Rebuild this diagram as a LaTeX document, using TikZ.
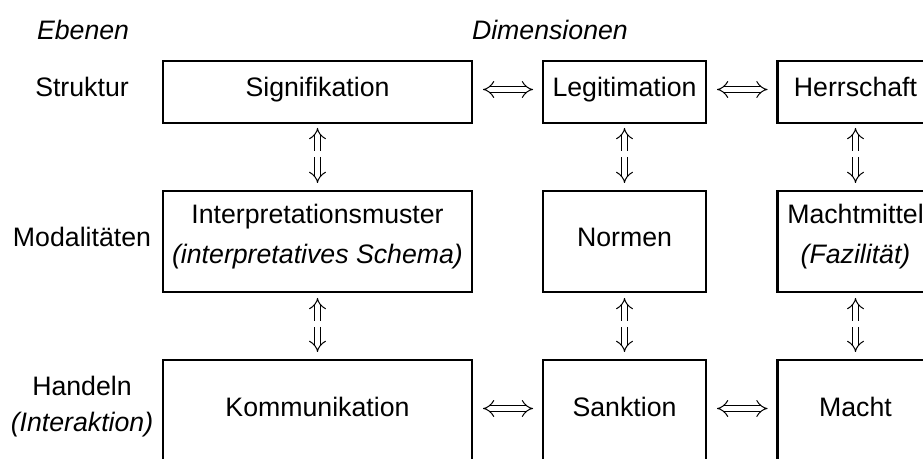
\documentclass[tikz,border=0pt]{standalone}
\usepackage{fontspec}
\setmainfont{Liberation Sans}
\usetikzlibrary{arrows.meta}
\begin{document}
\begin{tikzpicture}[x=1bp,y=-1bp,
  every node/.style={inner sep=0bp, outer sep=0bp},
  txt/.style={font=\fontsize{26.7bp}{39bp}\selectfont, anchor=base},
  box/.style={draw, line width=2.6bp},
  rowS/.style={box, minimum height=62bp},
  rowM/.style={box, minimum height=101bp},
  rowH/.style={box, minimum height=102bp},
  colA/.style={minimum width=309bp},
  colB/.style={minimum width=163bp},
  colC/.style={minimum width=156bp},
  dbl/.style={double, double distance=5bp, line width=1bp},
  harrow/.style={dbl, {Implies[length=7bp, width=16bp]}-{Implies[length=7bp, width=16bp]},
                 shorten <=11bp, shorten >=10bp},
  varrow/.style={dbl, -{Implies[length=6bp, width=13bp]}}]
\useasboundingbox (0,0) rectangle (923,459);
\clip (0,0) rectangle (923,459);

% headings
\node[txt, anchor=base west] (ebenen) at (37,40) {\itshape Ebenen};
\node[txt, anchor=base west] (dimensionen) at (472,40) {\itshape Dimensionen};

% level labels
\node[txt] (struktur) at (82,96.5) {Struktur};
\node[txt] (modal) at (82,246.5) {Modalitäten};
\node[txt] (handeln) at (82,395) {Handeln};
\node[txt] (interaktion) at (82,431) {\itshape (Interaktion)};

% structure row
\node[rowS, colA] (sig) at (317.5,92) {};
\node[rowS, colB] (leg) at (624.5,92) {};
\node[rowS, colC] (her) at (855.5,92) {};
\node[txt] (sigT) at (sig |- 0,96.5) {Signifikation};
\node[txt] (legT) at (leg |- 0,96.5) {Legitimation};
\node[txt] (herT) at (her |- 0,96.5) {Herrschaft};

% modality row
\node[rowM, colA] (int) at (317.5,241.5) {};
\node[rowM, colB] (nor) at (624.5,241.5) {};
\node[rowM, colC] (mit) at (855.5,241.5) {};
\node[txt] (intT) at (int |- 0,223.5) {Interpretationsmuster};
\node[txt] (intS) at (int |- 0,264) {\itshape (interpretatives Schema)};
\node[txt] (norT) at (nor |- 0,246.5) {Normen};
\node[txt] (mitT) at (mit |- 0,223.5) {Machtmittel};
\node[txt] (mitS) at (mit |- 0,264) {\itshape (Fazilität)};

% interaction row
\node[rowH, colA] (kom) at (317.5,411) {};
\node[rowH, colB] (san) at (624.5,411) {};
\node[rowH, colC] (mac) at (855.5,411) {};
\node[txt] (komT) at (kom |- 0,416.5) {Kommunikation};
\node[txt] (sanT) at (san |- 0,416.5) {Sanktion};
\node[txt] (macT) at (mac |- 0,416.5) {Macht};

% horizontal links
\draw[harrow] ([yshift=2.5bp]sig.east) -- ([yshift=2.5bp]leg.west);
\draw[harrow] ([yshift=2.5bp]leg.east) -- ([yshift=2.5bp]her.west);
\draw[harrow] ([yshift=2.5bp]kom.east) -- ([yshift=2.5bp]san.west);
\draw[harrow] ([yshift=2.5bp]san.east) -- ([yshift=2.5bp]mac.west);

% vertical links, structure <-> modality
\foreach \u/\l in {sig/int, leg/nor, her/mit} {
  \draw[varrow, shorten <=40bp, shorten >=5bp] (\l.north) -- (\u.south);
  \draw[varrow, shorten <=34bp, shorten >=8bp] (\u.south) -- (\l.north);
}
% vertical links, modality <-> interaction
\foreach \u/\l in {int/kom, nor/san, mit/mac} {
  \draw[varrow, shorten <=39bp, shorten >=6bp] (\l.north) -- (\u.south);
  \draw[varrow, shorten <=35bp, shorten >=8bp] (\u.south) -- (\l.north);
}
\end{tikzpicture}
\end{document}
